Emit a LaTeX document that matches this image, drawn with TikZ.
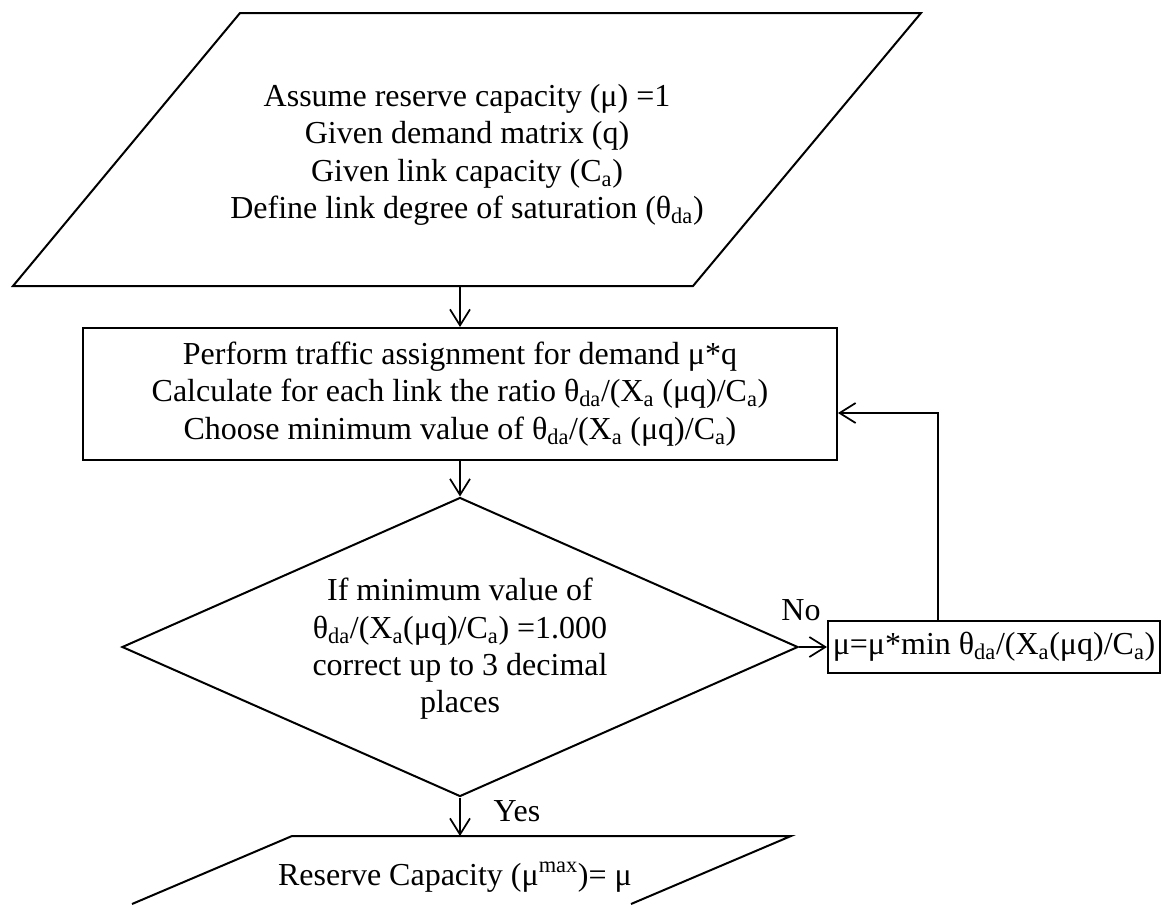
\documentclass[tikz,border=0pt]{standalone}
\usepackage{fontspec}
\setmainfont{Liberation Serif}
\usetikzlibrary{arrows.meta,shapes.geometric}

\begin{document}
\begin{tikzpicture}[x=0.75pt,y=-0.75pt,
  line width=1.5pt,
  every node/.style={font=\fontsize{24}{28}\selectfont},
  flowbox/.style={draw, rectangle, inner sep=0pt, align=center},
  decision/.style={draw, diamond, inner sep=0pt},
  textblock/.style={align=center, inner sep=0pt},
  flow/.style={-{Straight Barb[length=12pt,width=15pt]}, line width=1.3pt},
]
\useasboundingbox (0,0) rectangle (1162,904);

% input data (parallelogram)
\draw (240,13) -- (921,13) -- (693,286) -- (13,286) -- cycle;
\node[textblock] (given) at (467,155)
  {Assume reserve capacity (μ) =1\\
   Given demand matrix (q)\\
   Given link capacity (C\textsubscript{a})\\
   Define link degree of saturation (θ\textsubscript{da})};
\coordinate (inbot) at (460,286);

% assignment step
\node[flowbox, minimum width={754*0.75pt}, minimum height={132*0.75pt}] (assign) at (460,394)
  {Perform traffic assignment for demand μ*q\\
   Calculate for each link the ratio θ\textsubscript{da}/(X\textsubscript{a} (μq)/C\textsubscript{a})\\
   Choose minimum value of θ\textsubscript{da}/(X\textsubscript{a} (μq)/C\textsubscript{a})};

% convergence test
\node[decision, minimum width={676*0.75pt}, minimum height={299*0.75pt}] (check) at (460,647) {};
\node[textblock] (checktext) at (460,649)
  {If minimum value of\\
   θ\textsubscript{da}/(X\textsubscript{a}(μq)/C\textsubscript{a}) =1.000\\
   correct up to 3 decimal\\
   places};

% update of the multiplier
\node[flowbox, minimum width={332*0.75pt}, minimum height={52*0.75pt}] (update) at (994,647)
  {μ=μ*min θ\textsubscript{da}/(X\textsubscript{a}(μq)/C\textsubscript{a})};

% result (parallelogram, running off the page)
\draw (132,904) -- (292,836) -- (791,836) -- (631,904);
\coordinate (outtop) at (460,836);
\node[anchor=base] (result) at (455,885) {Reserve Capacity (μ\textsuperscript{max})= μ};

% connectors
\coordinate (turn) at (938,413);
\draw[flow] (inbot) -- (assign.north);
\draw[flow] (assign.south) -- (check.north);
\draw[flow] (check.east) -- (update.west);
\draw[flow] (update.north -| turn) -- (turn) -- (assign.east |- turn);
\draw[flow] (check.south) -- (outtop);

\node[anchor=base] (nolabel) at (801,620) {No};
\node[anchor=base] (yeslabel) at (517,821) {Yes};
\end{tikzpicture}
\end{document}
